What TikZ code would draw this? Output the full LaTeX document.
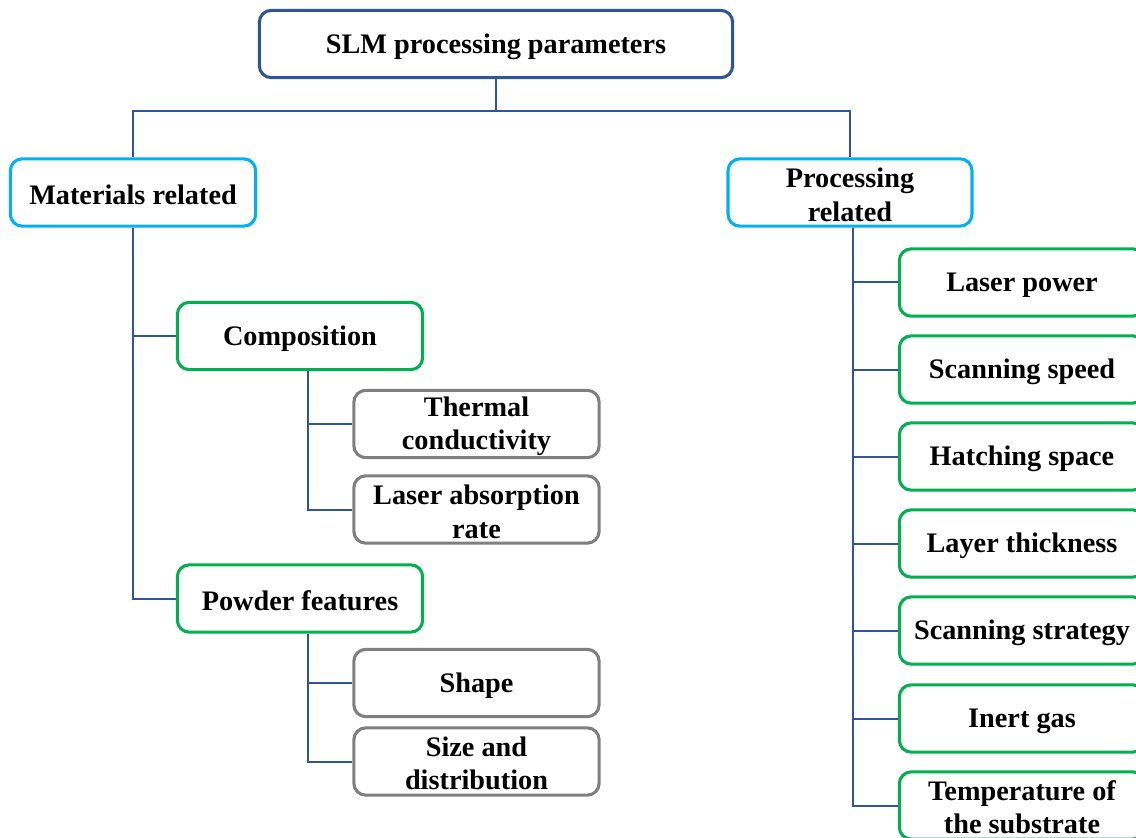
\documentclass[tikz,border=0pt]{standalone}
\usepackage{fontspec}
\setmainfont{Liberation Serif}
\usetikzlibrary{calc}
\definecolor{dblue}{HTML}{2F5597}
\definecolor{lblue}{HTML}{00B0F0}
\definecolor{gr}{HTML}{00B050}
\definecolor{gy}{HTML}{7F7F7F}
\newcommand\mytopstrut{\rule{0pt}{18pt}}
\begin{document}
\begin{tikzpicture}[x=0.75pt,y=-0.75pt,
  box/.style={draw, fill=white, rounded corners=9pt, line width=2.3pt, align=center,
    font=\fontsize{21.2}{25}\selectfont\bfseries, inner sep=0pt,
    minimum width=184pt, minimum height=50.5pt},
  topbox/.style={box, draw=dblue, minimum width=355pt},
  l1/.style={box, draw=lblue},
  l2/.style={box, draw=gr},
  l3/.style={box, draw=gy},
  conn/.style={draw=dblue, line width=1.5pt}]
\useasboundingbox (0,0) rectangle (1136,838);
\clip (0,0) rectangle (1136,838);
\node[topbox] (top) at (496,44) {\rule{0pt}{18.5pt}SLM processing parameters};
\node[l1] (mat) at (133,192.5) {\rule{0pt}{18.5pt}Materials related};
\node[l1, minimum width=183pt] (proc) at (850,192.5) {\mytopstrut Processing\\related};
\node[l2] (comp) at (300,336) {\rule{0pt}{18.5pt}Composition};
\node[l2] (pow) at (300,598.5) {\rule{0pt}{18.5pt}Powder features};
\node[l3] (therm) at (476.5,424) {\mytopstrut Thermal\\conductivity};
\node[l3] (abs) at (476.5,509.5) {\mytopstrut Laser absorption\\rate};
\node[l3] (shape) at (476.5,683) {\rule{0pt}{18.5pt}Shape};
\node[l3] (size) at (476.5,761.5) {\mytopstrut Size and\\distribution};
\node[l2] (lp) at (1022,282.5) {\rule{0pt}{18.5pt}Laser power};
\node[l2] (ss) at (1022,369.5) {\rule{0pt}{18.5pt}Scanning speed};
\node[l2] (hs) at (1022,456.5) {\rule{0pt}{18.5pt}Hatching space};
\node[l2] (lt) at (1022,543.5) {\rule{0pt}{18.5pt}Layer thickness};
\node[l2] (st) at (1022,630.5) {\rule{0pt}{18.5pt}Scanning strategy};
\node[l2] (ig) at (1022,718.5) {\rule{0pt}{18.5pt}Inert gas};
\node[l2] (ts) at (1022,805.5) {\mytopstrut Temperature of\\the substrate};
\coordinate (j) at ($(top.south)+(0,32)$);
\path[conn] (top.south) -- (j) -| (mat.north);
\path[conn] (j) -| (proc.north);
\path[conn] (mat.south) |- (comp.west);
\path[conn] (mat.south) |- (pow.west);
\coordinate (cb) at ($(comp.south)+(8,0)$);
\coordinate (pb) at ($(pow.south)+(8,0)$);
\coordinate (rb) at ($(proc.south)+(3,0)$);
\path[conn] (cb) |- (therm.west);
\path[conn] (cb) |- (abs.west);
\path[conn] (pb) |- (shape.west);
\path[conn] (pb) |- (size.west);
\foreach \n in {lp,ss,hs,lt,st,ig,ts} {\path[conn] (rb) |- (\n.west);}
\end{tikzpicture}
\end{document}
